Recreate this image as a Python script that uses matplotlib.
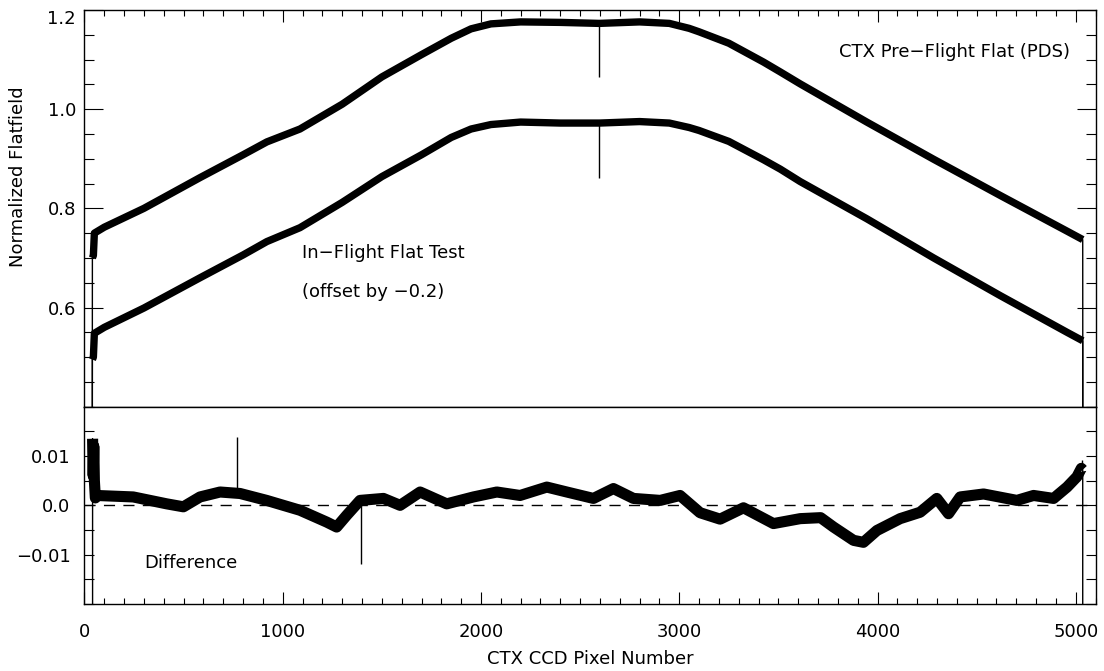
import numpy as np
import matplotlib.pyplot as plt
from matplotlib.ticker import MultipleLocator

# ============================
# Data
# ============================
# CCD pixel knots (pixels 0-39 and 5036+ are dead -> value 0)
pix = [0, 39, 40, 45, 50, 100, 300, 583, 800, 920, 1087, 1300, 1500, 1700,
       1850, 1950, 2050, 2200, 2400, 2594, 2598, 2800, 2950, 3050, 3100,
       3250, 3425, 3510, 3610, 3946, 4283, 4619, 4956, 5035, 5036, 5063]

pds_flat = [0.0, 0.0, 0.70, 0.705, 0.75, 0.762, 0.800, 0.862, 0.908, 0.934,
            0.960, 1.010, 1.065, 1.110, 1.143, 1.162, 1.172, 1.176, 1.175,
            1.173, 1.173, 1.176, 1.173, 1.163, 1.156, 1.133, 1.095, 1.075,
            1.051, 0.974, 0.899, 0.826, 0.754, 0.737, 0.0, 0.0]

inflight_flat = [0.0, 0.0, 0.695, 0.70, 0.748, 0.760, 0.799, 0.860, 0.906,
                 0.933, 0.961, 1.012, 1.064, 1.108, 1.143, 1.160, 1.169,
                 1.174, 1.172, 1.172, 1.172, 1.175, 1.172, 1.163, 1.157,
                 1.135, 1.098, 1.079, 1.054, 0.979, 0.900, 0.824, 0.750,
                 0.733, 0.0, 0.0]

inflight_offset = -0.2

# single bad pixel in both flats
spike_pix = [2596]
pds_spike = [1.065]
inflight_spike = [1.062]

# difference curve (dead pixels far off scale)
diff_pix = [0, 40, 41, 44, 47, 50, 55, 61, 246, 415, 499, 583, 684, 785,
            919, 1087, 1222, 1272, 1323, 1390, 1508, 1592, 1693, 1827, 1962,
            2080, 2197, 2332, 2433, 2567, 2668, 2769, 2904, 3004, 3105, 3206,
            3324, 3475, 3610, 3713, 3778, 3879, 3929, 3997, 4114, 4215, 4299,
            4358, 4417, 4535, 4703, 4787, 4888, 4956, 5006, 5028, 5035, 5036,
            5063]
diff = [-1.0, -1.0, 0.0135, 0.006, 0.012, 0.005, 0.0015, 0.002, 0.0017,
        0.0003, -0.0003, 0.0017, 0.0027, 0.0024, 0.001, -0.001, -0.0034,
        -0.0044, -0.002, 0.0010, 0.0014, 0.0, 0.0027, 0.0003, 0.0017, 0.0027,
        0.002, 0.0037, 0.0027, 0.0014, 0.0034, 0.0014, 0.001, 0.002, -0.0015,
        -0.0028, -0.0005, -0.0037, -0.0027, -0.0025, -0.0044, -0.0071,
        -0.0075, -0.0051, -0.0027, -0.0014, 0.0014, -0.0017, 0.0017, 0.0023,
        0.001, 0.002, 0.0014, 0.0037, 0.0058, 0.0075, 0.0072, -1.0, -1.0]

diff_spike_pix = [767, 1397, 5031]
diff_spike = [0.0138, -0.0118, 0.0092]

diff_ticks = [-0.01, 0.0, 0.01]
diff_tick_labels = ['\u22120.01', '0.0', '0.01']

# ============================
# Figure
# ============================
plt.rcParams['font.family'] = 'DejaVu Sans'
plt.rcParams['font.size'] = 13

fig = plt.figure(figsize=(11.04, 6.71), dpi=100)
ax1 = fig.add_axes([0.0765, 0.3939, 0.9159, 0.5912])
ax2 = fig.add_axes([0.0765, 0.0999, 0.9159, 0.2940])

x = np.array(pix)
pds = np.array(pds_flat)
inf = np.array(inflight_flat)
good = pds > 0

# noisy band (thick) + thin full trace incl. dead pixel drops
for y in (pds, inf + inflight_offset):
    ax1.plot(x[good], y[good], color='k', lw=5.3, solid_capstyle='butt',
             solid_joinstyle='round')
    ax1.plot(x, y, color='k', lw=1.0)
ax1.vlines(spike_pix, np.interp(spike_pix, x, pds), pds_spike, color='k', lw=1.0)
ax1.vlines(spike_pix, np.interp(spike_pix, x, inf) + inflight_offset,
           np.array(inflight_spike) + inflight_offset, color='k', lw=1.0)

xd = np.array(diff_pix)
d = np.array(diff)
okd = np.abs(d) < 0.5
ax2.plot(xd[okd], d[okd], color='k', lw=8.0, solid_capstyle='butt',
         solid_joinstyle='round')
ax2.plot(xd, d, color='k', lw=1.0)
ax2.vlines(diff_spike_pix, np.interp(diff_spike_pix, xd, d), diff_spike,
           color='k', lw=1.0)
ax2.axhline(0.0, color='k', lw=1.0, dashes=(8, 6))

# axes ranges and ticks
for ax in (ax1, ax2):
    ax.set_xlim(0, 5100)
    ax.xaxis.set_major_locator(MultipleLocator(1000))
    ax.xaxis.set_minor_locator(MultipleLocator(100))
    for s in ax.spines.values():
        s.set_linewidth(1.0)

ax1.set_ylim(0.4, 1.2)
ax1.set_yticks([0.6, 0.8, 1.0, 1.2])
ax1.yaxis.set_minor_locator(MultipleLocator(0.05))
ax1.tick_params(axis='x', which='both', direction='in', bottom=False, top=True,
                labelbottom=False, width=0.8)
ax1.tick_params(axis='x', which='major', length=8.6)
ax1.tick_params(axis='x', which='minor', length=4.3)
ax1.tick_params(axis='y', which='both', direction='in', left=True, right=True,
                width=0.8, pad=6)
ax1.tick_params(axis='y', which='major', length=13.7)
ax1.tick_params(axis='y', which='minor', length=7.2)
# top label sits just under the frame, as in the original
ax1.get_yticklabels()[-1].set_verticalalignment('top')

ax2.set_ylim(-0.02, 0.02)
ax2.set_yticks(diff_ticks)
ax2.set_yticklabels(diff_tick_labels)
ax2.yaxis.set_minor_locator(MultipleLocator(0.005))
ax2.tick_params(axis='x', which='both', direction='in', bottom=True, top=False,
                width=0.8, pad=14)
ax2.tick_params(axis='x', which='major', length=8.6)
ax2.tick_params(axis='x', which='minor', length=4.3)
ax2.tick_params(axis='y', which='both', direction='in', left=True, right=True,
                width=0.8, length=7.2, pad=10)

# labels and annotations
fig.text(18 / 1104, 1 - 177 / 671, 'Normalized Flatfield', rotation=90,
         ha='center', va='center')
fig.text(590 / 1104, 1 - 659 / 671, 'CTX CCD Pixel Number', ha='center',
         va='center')
ax1.text(4973, 1.115, 'CTX Pre\u2212Flight Flat (PDS)', ha='right', va='center')
ax1.text(1096, 0.709, 'In\u2212Flight Flat Test', ha='left', va='center')
ax1.text(1096, 0.631, '(offset by \u22120.2)', ha='left', va='center')
ax2.text(300, -0.0116, 'Difference', ha='left', va='center')

fig.savefig('out.png', dpi=100)
